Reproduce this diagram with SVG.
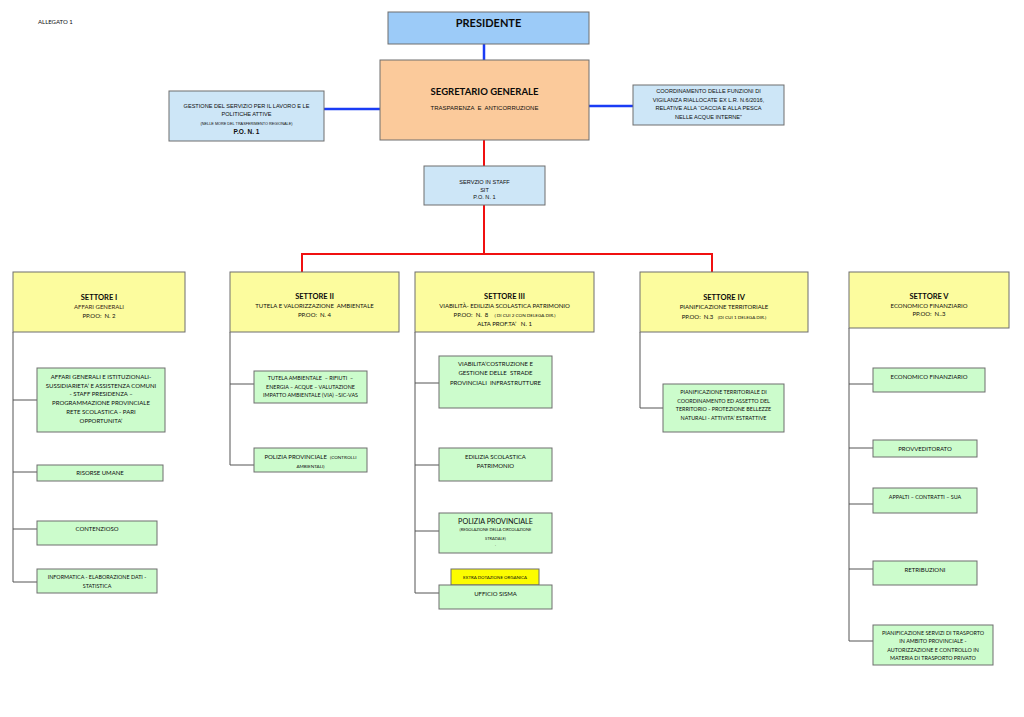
<svg xmlns="http://www.w3.org/2000/svg" width="1024" height="717" viewBox="0 0 1024 717">
<style>
.bx{stroke:#6e6e6e;stroke-width:1}
.pres{fill:#9ccbf8}
.seg{fill:#fbca9b}
.lb{fill:#cde6f7}
.sec{fill:#fcfc9e}
.gr{fill:#ccfccc}
.ex{fill:#fcfc00}
text{white-space:pre}
.t{font-family:Lato,"Liberation Sans",sans-serif;font-size:6px;fill:#0d0d0d;text-anchor:middle}
.a{font-family:"Liberation Sans",Arial,sans-serif;font-size:5.6px;fill:#0d0d0d;text-anchor:middle}
.b{font-weight:bold}
.h{font-family:Lato,"Liberation Sans",sans-serif;font-weight:bold;font-size:7.5px;fill:#0a0a0a;text-anchor:middle}
.blue{stroke:#1a3cf5;stroke-width:2.5;fill:none}
.red{stroke:#f01010;stroke-width:2;fill:none}
.gry{stroke:#555;stroke-width:1;fill:none}
</style>
<rect width="1024" height="717" fill="#ffffff"/>
<text x="38" y="24" class="t" style="text-anchor:start">ALLEGATO 1</text>
<g id="connectors">
<path class="blue" d="M484 44V60M324 109H380M589 106H633"/>
<path class="red" d="M484 140V166M484 205V254M302 272V254H712V272"/>
<path class="gry" d="M13 332V582M13 400H37M13 472H37M13 529H37M13 582H37"/>
<path class="gry" d="M230 332V465M230 384H254M230 465H254"/>
<path class="gry" d="M415 332V593M415 383H439M415 465H439M415 531H439M415 593H439"/>
<path class="gry" d="M640 332V408H663"/>
<path class="gry" d="M849 328V641M849 384H873M849 448H873M849 504H873M849 569H873M849 641H873"/>
</g>
<g id="presidente">
<rect class="bx pres" x="388" y="12" width="201" height="32"/>
<text x="488.5" y="27" class="h" style="font-size:11px">PRESIDENTE</text>
</g>
<g id="segretario">
<rect class="bx seg" x="380" y="60" width="209" height="80"/>
<text x="484.5" y="94.5" class="h" style="font-size:9.5px">SEGRETARIO GENERALE</text>
<text x="484.5" y="110" class="a" style="font-size:6px" xml:space="preserve">TRASPARENZA  E  ANTICORRUZIONE</text>
</g>
<g id="gestione-lavoro">
<rect class="bx lb" x="169" y="91" width="155" height="50"/>
<text x="246.5" y="108" class="a">GESTIONE DEL SERVIZIO PER IL LAVORO E LE</text>
<text x="246.5" y="116" class="a">POLITICHE ATTIVE</text>
<text x="246.5" y="124.5" class="a" style="font-size:3.8px">(NELLE MORE DEL TRASFERIMENTO REGIONALE)</text>
<text x="246.5" y="133.5" class="a b" style="font-size:6.5px">P.O. N. 1</text>
</g>
<g id="coordinamento-vigilanza">
<rect class="bx lb" x="633" y="85" width="151" height="40"/>
<text x="708.5" y="93" class="a">COORDINAMENTO DELLE FUNZIONI DI</text>
<text x="708.5" y="101.5" class="a">VIGILANZA RIALLOCATE EX L.R. N.6/2016,</text>
<text x="708.5" y="110" class="a">RELATIVE ALLA “CACCIA E ALLA PESCA</text>
<text x="708.5" y="119" class="a">NELLE ACQUE INTERNE”</text>
</g>
<g id="servizio-staff">
<rect class="bx lb" x="424" y="166" width="121" height="39"/>
<text x="484.5" y="184" class="a">SERVZIO IN STAFF</text>
<text x="484.5" y="191.5" class="a">SIT</text>
<text x="484.5" y="199" class="a">P.O. N. 1</text>
</g>
<g id="settore-1">
<rect class="bx sec" x="13" y="272" width="172" height="60"/>
<text x="99" y="299.5" class="h">SETTORE I</text>
<text x="99" y="309" class="t" style="fill:#3a2416">AFFARI GENERALI</text>
<text x="99" y="318" class="t" xml:space="preserve">PP.OO:  N. 2</text>
</g>
<g id="s1-affari">
<rect class="bx gr" x="37" y="368" width="128" height="64"/>
<text x="101" y="379" class="t">AFFARI GENERALI E ISTITUZIONALI-</text>
<text x="101" y="387.5" class="t">SUSSIDIARIETA’ E ASSISTENZA COMUNI</text>
<text x="101" y="396" class="t">- STAFF PRESIDENZA –</text>
<text x="101" y="405" class="t">PROGRAMMAZIONE PROVINCIALE</text>
<text x="101" y="414" class="t">RETE SCOLASTICA - PARI</text>
<text x="101" y="422.5" class="t">OPPORTUNITA’</text>
</g>
<g id="s1-risorse">
<rect class="bx gr" x="37" y="465" width="126" height="16"/>
<text x="100" y="475" class="t">RISORSE UMANE</text>
</g>
<g id="s1-contenzioso">
<rect class="bx gr" x="37" y="521" width="120" height="24"/>
<text x="97" y="531" class="t">CONTENZIOSO</text>
</g>
<g id="s1-informatica">
<rect class="bx gr" x="37" y="569" width="120" height="24"/>
<text x="97" y="579" class="t" style="font-size:5.4px">INFORMATICA - ELABORAZIONE DATI -</text>
<text x="97" y="587.5" class="t" style="font-size:5.4px">STATISTICA</text>
</g>
<g id="settore-2">
<rect class="bx sec" x="230" y="272" width="169" height="60"/>
<text x="314.5" y="298.5" class="h">SETTORE II</text>
<text x="314.5" y="307.5" class="t" xml:space="preserve">TUTELA E VALORIZZAZIONE  AMBIENTALE</text>
<text x="314.5" y="316.5" class="t" xml:space="preserve">PP.OO:  N. 4</text>
</g>
<g id="s2-tutela">
<rect class="bx gr" x="254" y="371" width="113" height="32"/>
<text x="310.5" y="380" class="t" style="font-size:5.4px" xml:space="preserve">TUTELA AMBIENTALE  – RIFIUTI  –</text>
<text x="310.5" y="389" class="t" style="font-size:5.4px">ENERGIA – ACQUE – VALUTAZIONE</text>
<text x="310.5" y="397" class="t" style="font-size:5.4px">IMPATTO AMBIENTALE (VIA) –SIC-VAS</text>
</g>
<g id="s2-polizia">
<rect class="bx gr" x="254" y="448" width="113" height="24"/>
<text x="310.5" y="459" class="t" xml:space="preserve">POLIZIA PROVINCIALE  <tspan style="font-size:4.6px">(CONTROLLI</tspan></text>
<text x="310.5" y="468" class="t" style="font-size:4.6px">AMBIENTALI)</text>
</g>
<g id="settore-3">
<rect class="bx sec" x="415" y="272" width="179" height="60"/>
<text x="504.5" y="298.5" class="h">SETTORE III</text>
<text x="504.5" y="307.5" class="t">VIABILITÀ- EDILIZIA SCOLASTICA PATRIMONIO</text>
<text x="504.5" y="316.5" class="t" xml:space="preserve">PP.OO:  N.  8    <tspan style="font-size:4.6px">( DI CUI 2 CON DELEGA DIR.)</tspan></text>
<text x="504.5" y="325.5" class="t" xml:space="preserve">ALTA PROF.TA’   N. 1</text>
</g>
<g id="s3-viabilita">
<rect class="bx gr" x="439" y="356" width="113" height="52"/>
<text x="495.5" y="366" class="t">VIABILITA’COSTRUZIONE E</text>
<text x="495.5" y="375" class="t" xml:space="preserve">GESTIONE DELLE  STRADE</text>
<text x="495.5" y="384.5" class="t" xml:space="preserve">PROVINCIALI  INFRASTRUTTURE</text>
</g>
<g id="s3-edilizia">
<rect class="bx gr" x="439" y="448" width="113" height="33"/>
<text x="495.5" y="459" class="t">EDILIZIA SCOLASTICA</text>
<text x="495.5" y="468" class="t">PATRIMONIO</text>
</g>
<g id="s3-polizia">
<rect class="bx gr" x="439" y="513" width="113" height="40"/>
<text x="495.5" y="523.5" class="t" style="font-size:7.2px">POLIZIA PROVINCIALE</text>
<text x="495.5" y="531" class="t" style="font-size:4px">(REGOLAZIONE DELLA CIRCOLAZIONE</text>
<text x="495.5" y="540" class="t" style="font-size:4px">STRADALE)</text>
<text x="495.5" y="546" class="t" style="font-size:4px">.</text>
</g>
<g id="s3-extra">
<rect class="bx ex" x="451" y="569" width="88" height="16"/>
<text x="495" y="578.5" class="t" style="font-size:4.4px">EXTRA DOTAZIONE ORGANICA</text>
</g>
<g id="s3-sisma">
<rect class="bx gr" x="439" y="585" width="113" height="24"/>
<text x="495.5" y="595.5" class="t">UFFICIO SISMA</text>
</g>
<g id="settore-4">
<rect class="bx sec" x="640" y="272" width="168" height="60"/>
<text x="724" y="299.5" class="h">SETTORE IV</text>
<text x="724" y="309" class="t">PIANIFICAZIONE TERRITORIALE</text>
<text x="724" y="318.5" class="t" xml:space="preserve">PP.OO:  N.3   <tspan style="font-size:4.6px">(DI CUI 1 DELEGA DIR.)</tspan></text>
</g>
<g id="s4-pianificazione">
<rect class="bx gr" x="663" y="384" width="121" height="48"/>
<text x="723.5" y="394" class="t" style="font-size:5.4px">PIANIFICAZIONE TERRITORIALE DI</text>
<text x="723.5" y="403" class="t" style="font-size:5.4px">COORDINAMENTO ED ASSETTO DEL</text>
<text x="723.5" y="411" class="t" style="font-size:5.4px">TERRITORIO - PROTEZIONE BELLEZZE</text>
<text x="723.5" y="419.5" class="t" style="font-size:5.4px">NATURALI - ATTIVITA’ ESTRATTIVE</text>
</g>
<g id="settore-5">
<rect class="bx sec" x="849" y="272" width="160" height="56"/>
<text x="929" y="298.5" class="h">SETTORE V</text>
<text x="929" y="307.5" class="t">ECONOMICO FINANZIARIO</text>
<text x="929" y="316" class="t" xml:space="preserve">PP.OO:  N..3</text>
</g>
<g id="s5-economico">
<rect class="bx gr" x="873" y="368" width="112" height="24"/>
<text x="929" y="379" class="t">ECONOMICO FINANZIARIO</text>
</g>
<g id="s5-provveditorato">
<rect class="bx gr" x="873" y="440" width="104" height="17"/>
<text x="925" y="451" class="t">PROVVEDITORATO</text>
</g>
<g id="s5-appalti">
<rect class="bx gr" x="873" y="488" width="104" height="25"/>
<text x="925" y="498.5" class="t" style="font-size:5.4px">APPALTI – CONTRATTI – SUA</text>
</g>
<g id="s5-retribuzioni">
<rect class="bx gr" x="873" y="561" width="104" height="24"/>
<text x="925" y="572" class="t">RETRIBUZIONI</text>
</g>
<g id="s5-trasporto">
<rect class="bx gr" x="873" y="625" width="120" height="40"/>
<text x="933" y="635" class="t" style="font-size:5.4px">PIANIFICAZIONE SERVIZI DI TRASPORTO</text>
<text x="933" y="643" class="t" style="font-size:5.4px">IN AMBITO PROVINCIALE -</text>
<text x="933" y="651.5" class="t" style="font-size:5.4px">AUTORIZZAZIONE E CONTROLLO IN</text>
<text x="933" y="659.5" class="t" style="font-size:5.4px">MATERIA DI TRASPORTO PRIVATO</text>
</g>
</svg>
